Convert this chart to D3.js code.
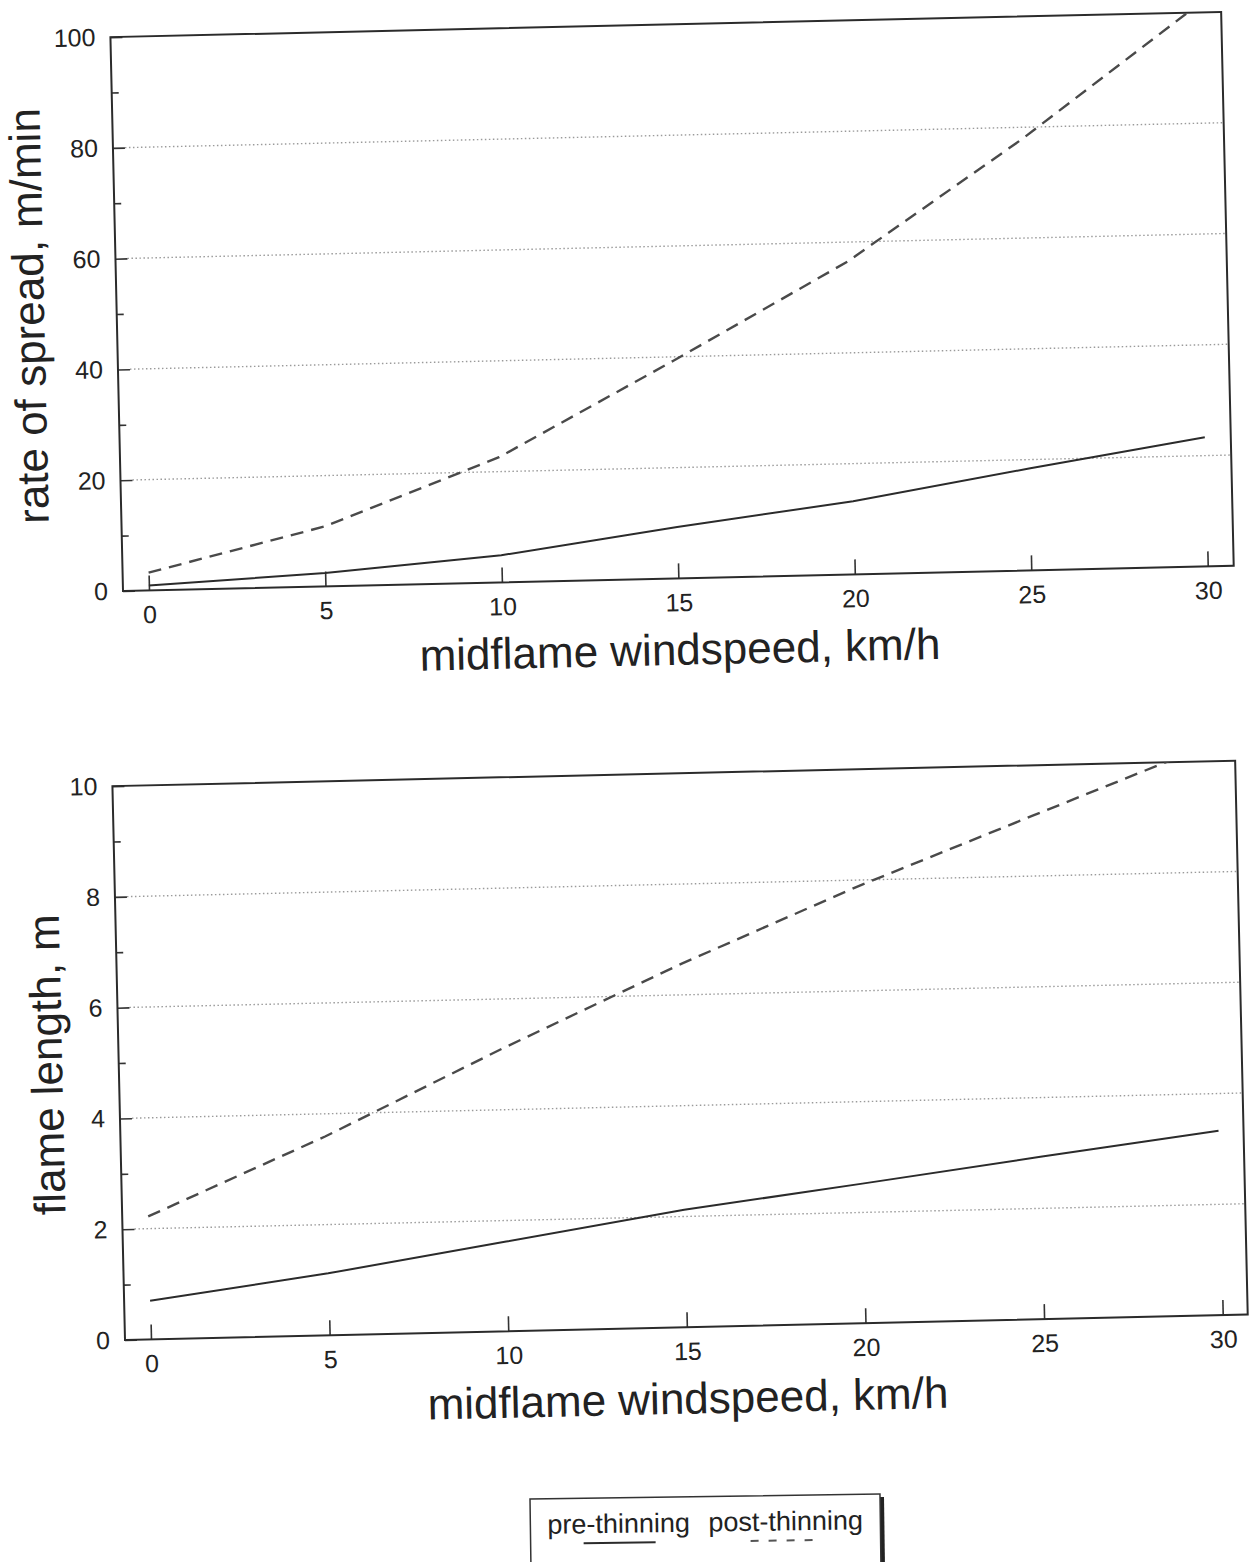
<!DOCTYPE html>
<html lang="en">
<head>
<meta charset="utf-8" />
<title>Rate of spread and flame length</title>
<script src="https://d3js.org/d3.v7.min.js"></script>
<style>
  body { margin: 0; background: #fff; }
  text { font-family: "Liberation Sans", Arial, Helvetica, sans-serif; fill: #222; }
  .tick line { stroke: #333; stroke-width: 1.6; }
  .grid line { stroke: #9a9a9a; stroke-width: 1.4; stroke-dasharray: 1.5,2.5; }
</style>
</head>
<body>
<script>
// values
const windspeed   = [0, 5, 10, 15, 20, 25, 30];
const spreadPre   = [0.9, 2.4, 4.9, 9.3, 13.2, 18.4, 23.3];
const spreadPost  = [3.2, 10.8, 22.6, 39.3, 56.5, 77.8, 101];
const flamePre    = [0.70, 1.12, 1.62, 2.12, 2.52, 2.93, 3.33];
const flamePost   = [2.22, 3.59, 5.10, 6.54, 7.87, 9.09, 10.30];
const xTicks      = [0, 5, 10, 15, 20, 25, 30];
const spreadMajor = [0, 20, 40, 60, 80, 100];
const spreadMinor = [10, 30, 50, 70, 90];
const flameMajor  = [0, 2, 4, 6, 8, 10];
const flameMinor  = [1, 3, 5, 7, 9];
const seriesNames = ["pre-thinning", "post-thinning"];
const xTitle = "midflame windspeed, km/h";

const svg = d3.select("body").append("svg")
  .attr("width", 1253)
  .attr("height", 1562);

const tilt = -1.3; // the scan is slightly rotated

function drawPanel(cfg) {
  const g = svg.append("g")
    .attr("transform", `translate(${cfg.left},${cfg.bottom}) rotate(${tilt})`);
  const w = cfg.width, h = 554;

  const x = d3.scaleLinear().domain([0, 30]).range([26, cfg.x30]);
  const y = d3.scaleLinear().domain([cfg.yMajor[0], cfg.yMajor[cfg.yMajor.length - 1]]).range([0, -h]);

  // dotted grid lines
  g.append("g").attr("class", "grid")
    .selectAll("line")
    .data(cfg.yMajor.slice(1, -1))
    .join("line")
    .attr("x1", 12).attr("x2", w)
    .attr("y1", d => y(d)).attr("y2", d => y(d));

  // y axis, ticks pointing inward
  const yAxis = g.append("g")
    .call(d3.axisLeft(y).tickValues(cfg.yMajor).tickSize(-12).tickPadding(15));
  yAxis.select(".domain").remove();
  yAxis.selectAll("text").attr("font-size", 25);

  const yMinor = g.append("g")
    .call(d3.axisLeft(y).tickValues(cfg.yMinor).tickSize(-7).tickFormat(""));
  yMinor.select(".domain").remove();

  // x axis, ticks pointing up
  const xAxis = g.append("g")
    .call(d3.axisBottom(x).tickValues(xTicks).tickSize(-15).tickPadding(15));
  xAxis.select(".domain").remove();
  xAxis.selectAll("text").attr("font-size", 25);

  // frame
  g.append("rect")
    .attr("x", 0).attr("y", -h)
    .attr("width", w).attr("height", h)
    .attr("fill", "none")
    .attr("stroke", "#2b2b2b")
    .attr("stroke-width", 2);

  const clipId = "clip-" + cfg.id;
  g.append("clipPath").attr("id", clipId)
    .append("rect").attr("x", 0).attr("y", -h).attr("width", w).attr("height", h);

  const line = d3.line()
    .x((d, i) => x(windspeed[i]))
    .y(d => y(d));

  g.append("path")
    .datum(cfg.pre)
    .attr("clip-path", `url(#${clipId})`)
    .attr("d", line)
    .attr("fill", "none")
    .attr("stroke", "#2b2b2b")
    .attr("stroke-width", 2);

  g.append("path")
    .datum(cfg.post)
    .attr("clip-path", `url(#${clipId})`)
    .attr("d", line)
    .attr("fill", "none")
    .attr("stroke", "#4a4a4a")
    .attr("stroke-width", 2.4)
    .attr("stroke-dasharray", "13,8");

  // titles
  g.append("text")
    .attr("x", w / 2)
    .attr("y", 71)
    .attr("dy", "0.35em")
    .attr("text-anchor", "middle")
    .attr("font-size", 44)
    .text(xTitle);

  g.append("text")
    .attr("transform", `translate(${cfg.yTitleX},${-h / 2}) rotate(-90)`)
    .attr("dy", "0.35em")
    .attr("text-anchor", "middle")
    .attr("font-size", 44)
    .text(cfg.yTitle);
}

drawPanel({
  id: "spread", left: 123, bottom: 591, width: 1111, x30: 1085,
  yMajor: spreadMajor, yMinor: spreadMinor,
  pre: spreadPre, post: spreadPost,
  yTitle: "rate of spread, m/min", yTitleX: -88
});

drawPanel({
  id: "flame", left: 125, bottom: 1340, width: 1123, x30: 1098,
  yMajor: flameMajor, yMinor: flameMinor,
  pre: flamePre, post: flamePost,
  yTitle: "flame length, m", yTitleX: -72
});

// legend box with a drop shadow on the right
const legend = svg.append("g")
  .attr("transform", "translate(530,1499) rotate(-0.8)");

legend.append("rect")
  .attr("x", 4).attr("y", 3)
  .attr("width", 350).attr("height", 90)
  .attr("fill", "#222");
legend.append("rect")
  .attr("x", 0).attr("y", 0)
  .attr("width", 350).attr("height", 90)
  .attr("fill", "#fff")
  .attr("stroke", "#333")
  .attr("stroke-width", 1.5);

const legendX = [17, 178];
const sampleX = [53, 220];
legend.selectAll("text.lab")
  .data(seriesNames)
  .join("text")
  .attr("class", "lab")
  .attr("x", (d, i) => legendX[i])
  .attr("y", 35)
  .attr("font-size", 27)
  .text(d => d);

legend.selectAll("line.sample")
  .data(seriesNames)
  .join("line")
  .attr("class", "sample")
  .attr("x1", (d, i) => sampleX[i])
  .attr("x2", (d, i) => sampleX[i] + 72)
  .attr("y1", 45).attr("y2", 45)
  .attr("stroke", (d, i) => i ? "#555" : "#2b2b2b")
  .attr("stroke-width", 2)
  .attr("stroke-dasharray", (d, i) => i ? "8,10" : null);
</script>
</body>
</html>
